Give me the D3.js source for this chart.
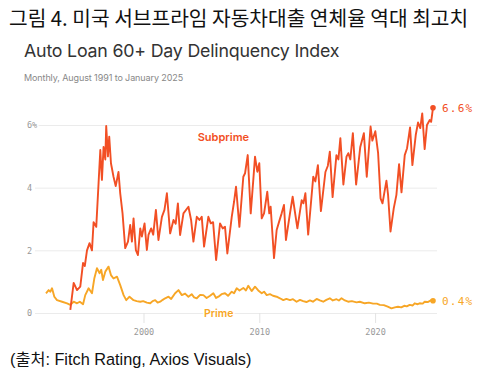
<!DOCTYPE html>
<html>
<head>
<meta charset="utf-8">
<script src="https://cdn.jsdelivr.net/npm/d3@7"></script>
<style>
  html, body { margin: 0; padding: 0; background: #fff; }
  svg { display: block; }
</style>
</head>
<body>
<svg id="chart" width="500" height="370"></svg>
<script>
// ---- data (decimal year, percent) ----
const subprimeSeries = [
  [1993.68,0.10],[1993.97,0.96],[1994.26,0.73],[1994.54,0.84],[1994.78,1.60],[1994.93,1.50],
  [1995.12,2.00],[1995.34,2.23],[1995.55,2.00],[1995.69,2.90],[1995.92,2.75],[1996.12,4.15],
  [1996.27,5.20],[1996.41,4.25],[1996.55,5.30],[1996.70,4.90],[1996.78,5.97],[1996.93,5.00],
  [1997.04,5.63],[1997.19,4.78],[1997.41,4.35],[1997.60,4.05],[1997.84,4.50],[1997.99,3.82],
  [1998.19,3.18],[1998.42,2.07],[1998.66,2.28],[1998.85,2.81],[1999.00,2.28],[1999.14,3.02],
  [1999.34,2.01],[1999.52,1.85],[1999.72,2.70],[1999.86,2.44],[2000.09,2.86],[2000.29,2.01],
  [2000.43,2.49],[2000.66,2.70],[2000.84,2.50],[2001.07,3.29],[2001.29,2.33],[2001.59,3.07],
  [2001.81,3.29],[2002.02,3.82],[2002.30,2.54],[2002.59,2.97],[2002.78,2.85],[2002.97,3.50],
  [2003.16,2.49],[2003.45,3.18],[2003.88,3.39],[2004.11,2.97],[2004.31,2.28],[2004.60,3.07],
  [2004.83,2.97],[2005.03,3.07],[2005.23,2.12],[2005.60,3.07],[2005.81,2.86],[2006.01,2.90],
  [2006.27,1.69],[2006.61,2.86],[2006.84,2.70],[2007.04,2.75],[2007.24,1.90],[2007.62,3.07],
  [2007.82,3.55],[2007.99,4.03],[2008.28,2.75],[2008.62,4.35],[2008.77,4.46],[2009.00,5.04],
  [2009.26,3.18],[2009.48,4.24],[2009.63,4.99],[2009.83,4.51],[2010.00,4.78],[2010.21,3.02],
  [2010.41,3.18],[2010.69,3.87],[2010.86,3.18],[2010.98,3.39],[2011.27,1.75],[2011.50,2.65],
  [2011.70,2.90],[2011.93,3.18],[2012.13,3.45],[2012.30,2.33],[2012.65,3.18],[2012.88,3.71],
  [2013.29,2.70],[2013.66,3.60],[2013.81,3.50],[2013.98,3.82],[2014.22,2.50],[2014.66,4.35],
  [2014.84,4.20],[2015.06,4.72],[2015.32,3.25],[2015.71,4.50],[2015.92,4.70],[2016.09,5.15],
  [2016.33,3.70],[2016.66,5.04],[2016.83,4.90],[2017.00,5.58],[2017.26,4.10],[2017.53,4.99],
  [2017.69,5.10],[2017.86,4.90],[2018.08,5.74],[2018.36,4.10],[2018.72,5.30],[2019.03,5.74],
  [2019.28,4.35],[2019.61,5.95],[2019.76,5.50],[2020.02,5.80],[2020.26,5.10],[2020.47,3.66],
  [2020.64,3.50],[2020.84,3.93],[2020.98,4.22],[2021.12,3.77],[2021.33,2.60],[2021.61,3.34],
  [2021.84,3.77],[2022.07,4.75],[2022.28,3.85],[2022.56,5.04],[2022.76,5.26],[2023.02,5.92],
  [2023.22,4.72],[2023.51,5.68],[2023.71,6.08],[2023.90,5.90],[2024.07,6.37],[2024.28,5.23],
  [2024.48,6.00],[2024.72,6.16],[2024.84,6.10],[2025.00,6.55]
];
const primeSeries = [
  [1991.58,0.63],[1991.81,0.73],[1991.96,0.68],[1992.10,0.79],[1992.30,0.52],[1992.53,0.41],
  [1992.97,0.36],[1993.40,0.31],[1993.68,0.26],[1993.97,0.36],[1994.26,0.31],[1994.50,0.36],
  [1994.78,0.28],[1994.97,0.57],[1995.26,0.79],[1995.55,0.63],[1995.75,1.10],[1995.98,1.43],
  [1996.21,1.27],[1996.35,1.38],[1996.50,1.05],[1996.70,1.32],[1996.98,1.48],[1997.19,1.21],
  [1997.41,1.10],[1997.71,1.16],[1997.99,0.89],[1998.28,0.57],[1998.51,0.41],[1998.79,0.52],
  [1999.14,0.41],[1999.41,0.38],[1999.72,0.36],[1999.97,0.38],[2000.29,0.33],[2000.58,0.31],
  [2000.79,0.38],[2001.01,0.41],[2001.22,0.33],[2001.44,0.36],[2001.66,0.42],[2001.87,0.47],
  [2002.16,0.52],[2002.39,0.45],[2002.73,0.63],[2003.02,0.73],[2003.31,0.57],[2003.59,0.62],
  [2003.88,0.52],[2004.16,0.60],[2004.37,0.50],[2004.60,0.47],[2004.89,0.58],[2005.17,0.57],
  [2005.45,0.48],[2005.75,0.55],[2006.03,0.63],[2006.27,0.48],[2006.47,0.52],[2006.74,0.60],
  [2007.04,0.63],[2007.30,0.55],[2007.62,0.68],[2007.82,0.63],[2008.05,0.79],[2008.29,0.72],
  [2008.62,0.80],[2008.85,0.72],[2009.05,0.87],[2009.34,0.70],[2009.63,0.84],[2009.91,0.72],
  [2010.21,0.63],[2010.41,0.68],[2010.64,0.57],[2010.92,0.60],[2011.18,0.55],[2011.50,0.52],
  [2011.78,0.47],[2012.07,0.41],[2012.34,0.45],[2012.65,0.41],[2012.91,0.44],[2013.22,0.36],
  [2013.51,0.42],[2013.79,0.38],[2014.07,0.35],[2014.37,0.40],[2014.63,0.36],[2014.95,0.45],
  [2015.23,0.40],[2015.52,0.36],[2015.79,0.42],[2016.09,0.47],[2016.35,0.40],[2016.67,0.44],
  [2016.87,0.40],[2017.10,0.47],[2017.39,0.40],[2017.67,0.36],[2017.99,0.38],[2018.40,0.34],
  [2018.68,0.36],[2019.11,0.31],[2019.46,0.33],[2019.83,0.30],[2020.15,0.30],[2020.41,0.26],
  [2020.75,0.25],[2021.09,0.20],[2021.41,0.15],[2021.70,0.18],[2021.98,0.20],[2022.26,0.18],
  [2022.52,0.23],[2022.73,0.21],[2022.99,0.26],[2023.25,0.24],[2023.42,0.31],[2023.68,0.28],
  [2023.85,0.31],[2024.11,0.30],[2024.28,0.36],[2024.54,0.35],[2024.86,0.41],[2025.00,0.39]
];
const yTicks = [0, 2, 4, 6];
const xTicks = [2000, 2010, 2020];
const seriesNames = ["Subprime", "Prime"];
const endLabels = ["6.6%", "0.4%"];
const figureTitle = "그림 4. 미국 서브프라임 자동차대출 연체율 역대 최고치";
const chartTitle = "Auto Loan 60+ Day Delinquency Index";
const chartSubtitle = "Monthly, August 1991 to January 2025";
const sourceText = "(출처: Fitch Rating, Axios Visuals)";

// ---- styles ----
const C_SUB = "#f24f24";
const C_PRIME = "#f7a626";
const MONO = "'DejaVu Sans Mono', 'Liberation Mono', monospace";

const svg = d3.select("#chart");

const x = d3.scaleLinear().domain([1991.58, 2025.0]).range([46, 433]);
const y = d3.scaleLinear().domain([0, 6]).range([313, 125]);

// Figure title
svg.append("text").attr("x", 9).attr("y", 26)
  .attr("font-family", "'Noto Sans CJK KR', sans-serif").attr("font-size", 20.3)
  .attr("fill", "#111").text(figureTitle);

svg.append("text").attr("x", 24).attr("y", 57)
  .attr("font-family", "Inter, 'Open Sans', sans-serif").attr("font-size", 17.8)
  .attr("fill", "#333").attr("letter-spacing", -0.2).text(chartTitle);

svg.append("text").attr("x", 24).attr("y", 81)
  .attr("font-family", "Inter, sans-serif").attr("font-size", 9)
  .attr("fill", "#888").attr("letter-spacing", -0.1).text(chartSubtitle);

// Gridlines + y labels
const gx0 = 35, gx1 = 437;
const yAxis = d3.axisRight(y).tickValues(yTicks).tickSize(gx1 - gx0)
  .tickFormat(d => d === 6 ? d + "%" : d);
const yg = svg.append("g").attr("transform", `translate(${gx0},0)`).call(yAxis);
yg.select(".domain").remove();
yg.selectAll(".tick line").attr("stroke", "#ebebeb").attr("stroke-width", 1);
yg.selectAll(".tick text")
  .attr("x", 27 - gx0).attr("text-anchor", "start")
  .attr("font-family", MONO).attr("font-size", 8.5).attr("fill", "#999")
  .attr("stroke", "#fff").attr("stroke-width", 3).attr("paint-order", "stroke");

// X axis
const xAxis = d3.axisBottom(x).tickValues(xTicks).tickSize(10).tickPadding(6)
  .tickFormat(d3.format("d"));
const xg = svg.append("g").attr("transform", `translate(0,${y(0)})`).call(xAxis);
xg.select(".domain").remove();
xg.selectAll(".tick line").attr("stroke", "#e3e3e3");
xg.selectAll(".tick text").attr("font-family", MONO).attr("font-size", 8.5).attr("fill", "#999");

// Lines
const line = d3.line().x(d => x(d[0])).y(d => y(d[1])).curve(d3.curveLinear);
svg.append("path").datum(primeSeries).attr("d", line)
  .attr("fill", "none").attr("stroke", C_PRIME).attr("stroke-width", 1.9)
  .attr("stroke-linejoin", "round");
svg.append("path").datum(subprimeSeries).attr("d", line)
  .attr("fill", "none").attr("stroke", C_SUB).attr("stroke-width", 1.9)
  .attr("stroke-linejoin", "round");

// End dots + labels
const ends = [
  {d: subprimeSeries[subprimeSeries.length - 1], c: C_SUB, t: endLabels[0]},
  {d: primeSeries[primeSeries.length - 1], c: C_PRIME, t: endLabels[1]}
];
ends.forEach(e => {
  svg.append("circle").attr("cx", x(e.d[0])).attr("cy", y(e.d[1])).attr("r", 2.8).attr("fill", e.c);
  svg.append("text").attr("x", x(e.d[0]) + 9).attr("y", y(e.d[1])).attr("dy", "0.35em")
    .attr("font-family", MONO).attr("font-size", 11).attr("letter-spacing", 1.2)
    .attr("fill", e.c).text(e.t);
});

// Series labels
svg.append("text").attr("x", x(2006.9)).attr("y", y(5.6)).attr("dy", "0.35em")
  .attr("text-anchor", "middle").attr("font-family", "Inter, sans-serif")
  .attr("font-weight", 600).attr("font-size", 11).attr("fill", C_SUB).text(seriesNames[0]);
svg.append("text").attr("x", x(2006.5)).attr("y", y(0)).attr("dy", "0.35em")
  .attr("text-anchor", "middle").attr("font-family", "Inter, sans-serif")
  .attr("font-weight", 600).attr("font-size", 10.5).attr("fill", C_PRIME)
  .attr("stroke", "#fff").attr("stroke-width", 3).attr("paint-order", "stroke")
  .text(seriesNames[1]);

// Source
svg.append("text").attr("x", 10).attr("y", 365)
  .attr("font-family", "'Liberation Sans', 'Noto Sans CJK KR', sans-serif").attr("font-size", 16.3)
  .attr("fill", "#111").text(sourceText);
</script>
</body>
</html>
